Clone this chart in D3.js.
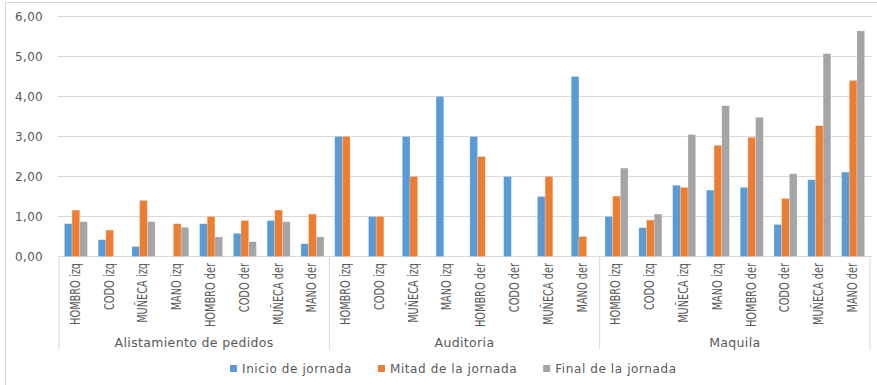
<!DOCTYPE html>
<html>
<head>
<meta charset="utf-8">
<script src="https://cdn.jsdelivr.net/npm/d3@7"></script>
<style>
  html, body { margin: 0; padding: 0; background: #fff; }
  svg { display: block; }
  text { fill: #595959; font-family: "DejaVu Sans", sans-serif; }
</style>
</head>
<body>
<svg id="chart" width="877" height="385"></svg>
<script>
// Activity groups and body segments (second and first level of the category axis)
const groups = ["Alistamiento de pedidos", "Auditoria", "Maquila"];
const segments = ["HOMBRO izq", "CODO izq", "MUÑECA izq", "MANO izq",
                  "HOMBRO der", "CODO der", "MUÑECA der", "MANO der"];

// Series names and colours
const seriesNames = ["Inicio de jornada", "Mitad de la jornada", "Final de la jornada"];
const seriesColors = ["#5B9BD5", "#ED7D31", "#A5A5A5"];

// Values per series, 8 segments per group, groups in order
const inicio = [0.82, 0.42, 0.25, 0, 0.82, 0.58, 0.90, 0.32,
                3.0, 1.0, 3.0, 4.0, 3.0, 2.0, 1.5, 4.5,
                1.0, 0.72, 1.78, 1.66, 1.73, 0.80, 1.92, 2.11];
const mitad = [1.16, 0.66, 1.40, 0.82, 1.0, 0.90, 1.16, 1.06,
               3.0, 1.0, 2.0, 0, 2.5, 0, 2.0, 0.5,
               1.51, 0.91, 1.73, 2.78, 2.98, 1.45, 3.27, 4.40];
const final = [0.87, 0, 0.87, 0.73, 0.49, 0.37, 0.87, 0.49,
               0, 0, 0, 0, 0, 0, 0, 0,
               2.21, 1.06, 3.05, 3.77, 3.48, 2.07, 5.07, 5.64];

const yTicks = [0, 1, 2, 3, 4, 5, 6];
const fmt = v => v.toFixed(2).replace(".", ",");

const series = [inicio, mitad, final];
const keys = groups.flatMap((g, gi) => segments.map((s, si) => g + "|" + si));
const rows = keys.map((k, i) => ({
  key: k,
  group: groups[Math.floor(i / segments.length)],
  segment: segments[i % segments.length],
  values: series.map(s => s[i])
}));

const svg = d3.select("#chart");

// Outer chart border
svg.append("rect")
  .attr("x", 5.5).attr("y", 2.5)
  .attr("width", 900).attr("height", 420)
  .attr("fill", "none").attr("stroke", "#d9d9d9");

const x0 = d3.scaleBand().domain(keys).range([59, 870]).paddingInner(0).paddingOuter(0);
const x1 = d3.scaleBand().domain([0, 1, 2]).range([0, x0.bandwidth()]).paddingInner(0).paddingOuter(0.7);
const y = d3.scaleLinear().domain([0, 6]).range([256.5, 16.5]);

// Horizontal gridlines
svg.append("g").selectAll("line").data(yTicks).join("line")
  .attr("x1", 58).attr("x2", 872)
  .attr("y1", d => y(d)).attr("y2", d => y(d))
  .attr("stroke", "#d9d9d9").attr("stroke-width", 1);

// Value axis labels
svg.append("g").selectAll("text").data(yTicks).join("text")
  .attr("x", 43).attr("y", d => y(d))
  .attr("dy", "0.36em")
  .attr("text-anchor", "end")
  .attr("font-size", 12)
  .attr("letter-spacing", 0.3)
  .text(fmt);

// Bars
const cat = svg.append("g").selectAll("g").data(rows).join("g")
  .attr("transform", d => `translate(${x0(d.key)},0)`);
cat.selectAll("rect").data(d => d.values.map((v, i) => ({ v, i }))).join("rect")
  .filter(d => d.v > 0)
  .attr("x", d => x1(d.i))
  .attr("width", x1.bandwidth())
  .attr("y", d => y(d.v))
  .attr("height", d => y(0) - y(d.v))
  .attr("fill", d => seriesColors[d.i])
  .attr("stroke", "#ffffff").attr("stroke-opacity", 0.35).attr("stroke-width", 0.6);

// Segment labels (rotated, horizontally condensed)
const catFont = 13.5;
const probe = svg.append("text").attr("font-size", catFont).text("HOMBRO izq");
const squeeze = 62 / probe.node().getComputedTextLength();
probe.remove();
svg.append("g").selectAll("text").data(rows).join("text")
  .attr("transform", d => `translate(${x0(d.key) + x0.bandwidth() / 2 - 1},263) rotate(-90) scale(${squeeze},1)`)
  .attr("dy", "0.36em")
  .attr("text-anchor", "end")
  .attr("font-size", catFont)
  .text(d => d.segment);

// Group separators and group labels
const groupEdges = groups.map((g, gi) => x0(keys[gi * segments.length]));
groupEdges.push(x0.range()[1]);
svg.append("g").selectAll("line").data(groupEdges).join("line")
  .attr("x1", d => d).attr("x2", d => d)
  .attr("y1", 256.5).attr("y2", 350)
  .attr("stroke", "#d9d9d9");

svg.append("g").selectAll("text").data(groups).join("text")
  .attr("x", (g, gi) => (groupEdges[gi] + groupEdges[gi + 1]) / 2)
  .attr("y", 347)
  .attr("text-anchor", "middle")
  .attr("font-size", 12.5)
  .attr("letter-spacing", 0.35)
  .text(d => d);

// Legend
const legend = svg.append("g");
let lx = 230;
seriesNames.forEach((name, i) => {
  legend.append("rect")
    .attr("x", lx).attr("y", 365)
    .attr("width", 7).attr("height", 7)
    .attr("fill", seriesColors[i]);
  const t = legend.append("text")
    .attr("x", lx + 12).attr("y", 368.5)
    .attr("dy", "0.36em")
    .attr("font-size", 12)
    .attr("letter-spacing", 0.6)
    .text(name);
  lx += 12 + t.node().getComputedTextLength() + 26;
});
</script>
</body>
</html>
